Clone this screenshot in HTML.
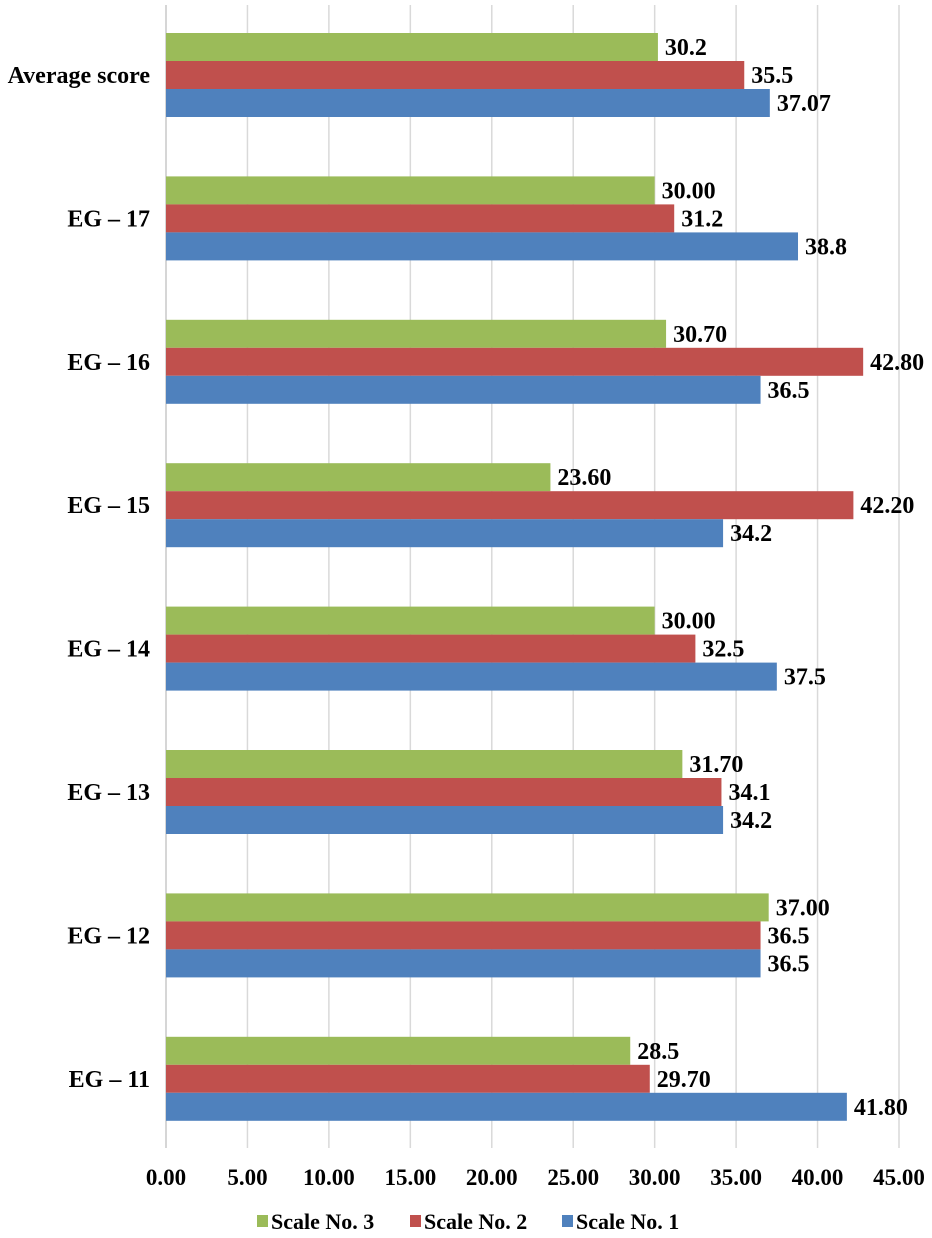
<!DOCTYPE html>
<html><head><meta charset="utf-8"><style>
body{margin:0;background:#fff}
svg text{font-family:"Liberation Serif",serif;font-weight:bold;fill:#000}
</style></head><body>
<svg id="chart" width="932" height="1233" xmlns="http://www.w3.org/2000/svg">
<g id="grid"></g><g id="bars"></g><g id="labels"></g>
<g>
<rect x="257" y="1215" width="11" height="12" fill="#9BBB59"/>
<text x="271" y="1229" font-size="22">Scale No. 3</text>
<rect x="410" y="1215" width="11" height="12" fill="#C0504D"/>
<text x="424" y="1229" font-size="22">Scale No. 2</text>
<rect x="562" y="1215" width="11" height="12" fill="#4F81BD"/>
<text x="576" y="1229" font-size="22">Scale No. 1</text>
</g>
</svg>
<script>
const categories=["Average score","EG – 17","EG – 16","EG – 15","EG – 14","EG – 13","EG – 12","EG – 11"];
const scale3=[30.2,30.00,30.70,23.60,30.00,31.70,37.00,28.5];
const scale2=[35.5,31.2,42.80,42.20,32.5,34.1,36.5,29.70];
const scale1=[37.07,38.8,36.5,34.2,37.5,34.2,36.5,41.80];
const labels3=["30.2","30.00","30.70","23.60","30.00","31.70","37.00","28.5"];
const labels2=["35.5","31.2","42.80","42.20","32.5","34.1","36.5","29.70"];
const labels1=["37.07","38.8","36.5","34.2","37.5","34.2","36.5","41.80"];
const ticks=[0,5,10,15,20,25,30,35,40,45];
const tickLabels=["0.00","5.00","10.00","15.00","20.00","25.00","30.00","35.00","40.00","45.00"];
const NS="http://www.w3.org/2000/svg";
const x=v=>166+v*(733/45);
const groupTop=i=>33+i*143.4;
const BH=28;
function mk(tag,attrs,parent){const e=document.createElementNS(NS,tag);for(const k in attrs)e.setAttribute(k,attrs[k]);parent.appendChild(e);return e;}
const grid=document.getElementById('grid'),bars=document.getElementById('bars'),lab=document.getElementById('labels');
ticks.forEach((t,i)=>{
  const l=mk('line',{x1:x(t),x2:x(t),y1:5,y2:1148,stroke:i===0?'#c8c8c8':'#d9d9d9','stroke-width':1.5},grid);
  
  
  const tx=mk('text',{x:x(t),y:1185,'font-size':23,'text-anchor':'middle'},lab);
  tx.textContent=tickLabels[i];
  
  
});
const series=[[scale3,labels3,'#9BBB59','scale-3'],[scale2,labels2,'#C0504D','scale-2'],[scale1,labels1,'#4F81BD','scale-1']];
categories.forEach((c,i)=>{
  const gt=groupTop(i);
  const ct=mk('text',{x:150,y:gt+BH*1.5+8,'font-size':24,'text-anchor':'end'},lab);
  ct.textContent=c;
  
  
  series.forEach((s,j)=>{
    const y=gt+j*BH;
    const r=mk('rect',{x:166,y:y,width:x(s[0][i])-166,height:BH,fill:s[2]},bars);
    
    
    const t=mk('text',{x:x(s[0][i])+7,y:y+BH/2+8,'font-size':24},lab);
    t.textContent=s[1][i];
    
    
  });
});
</script>
</body></html>
